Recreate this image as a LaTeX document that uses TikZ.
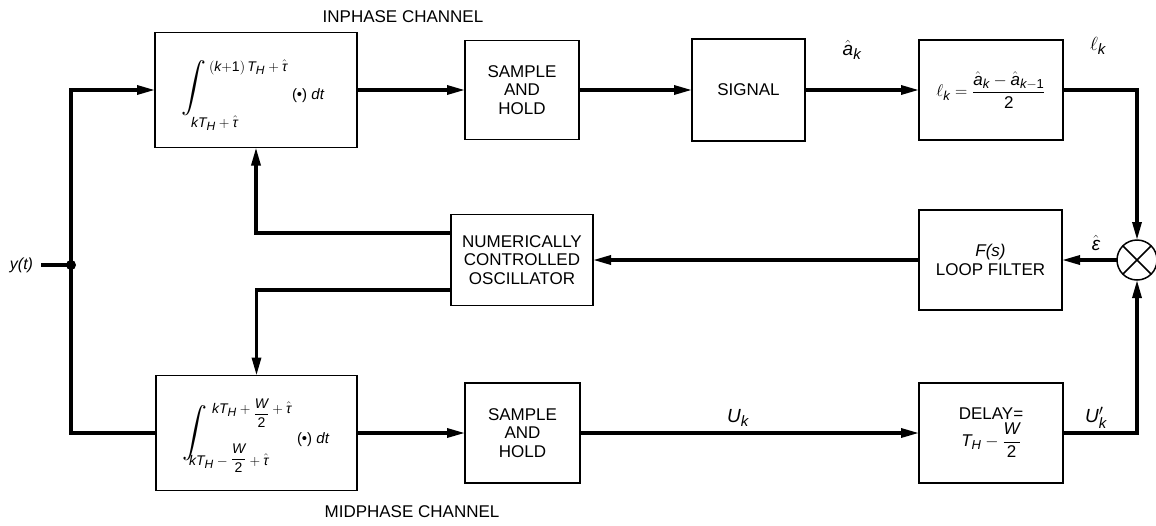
\RequirePackage{fix-cm}
\documentclass[tikz,border=0pt]{standalone}
\usepackage{amsmath}
\usepackage{fontspec}
\setmainfont{Liberation Sans}
\DeclareMathSizes{17}{17}{13}{10}
\DeclareMathSizes{14}{14}{12}{10}
\DeclareMathSizes{19}{19}{15}{12}
\usetikzlibrary{arrows.meta}
\newcommand\mi[1]{\text{\itshape #1}}
\newcommand\rn[1]{\text{#1}}
\begin{document}
\begin{tikzpicture}[x=1pt,y=-1pt,
  every node/.style={inner sep=0pt, outer sep=0pt},
  txt/.style={font=\fontsize{17}{18.5}\selectfont},
  lim/.style={font=\fontsize{14}{14}\selectfont, anchor=base west},
  intsign/.style={font=\fontsize{28}{28}\selectfont},
  dtlab/.style={font=\fontsize{15}{15}\selectfont, anchor=base west},
  blk/.style={draw, line width=1.5pt, align=center, txt},
  conn/.style={line width=3.2pt},
  arr/.style={conn, -{Triangle[length=18pt,width=9pt]}},
  lab/.style={font=\fontsize{19}{19}\selectfont},
]
\useasboundingbox[fill=white] (0,0) rectangle (1156,525);

% boxes
\node[blk, minimum width=202pt, minimum height=115pt] (intI) at (256,90) {};
\node[blk, minimum width=114pt, minimum height=99pt] (shI) at (522,90) {SAMPLE\\AND\\HOLD};
\node[blk, minimum width=113pt, minimum height=102pt] (sig) at (748.5,90) {SIGNAL};
\node[blk, minimum width=144pt, minimum height=100pt] (dif) at (991,90)
  {$\ell_{\mi{k}}=\dfrac{\hat{\mi{a}}_{\mi{k}}-\hat{\mi{a}}_{\mi{k}-\rn{1}}}{\rn{2}}$};
\node[draw, circle, line width=1.5pt, minimum size=40pt] (mul) at (1137,260) {};
\draw[line width=1.5pt] (mul.north west) -- (mul.south east) (mul.north east) -- (mul.south west);
\node[blk, minimum width=143pt, minimum height=100pt] (lf) at (990.5,260) {\textit{F(s)}\\LOOP FILTER};
\node[blk, minimum width=142pt, minimum height=91pt] (nco) at (522,260) {NUMERICALLY\\CONTROLLED\\OSCILLATOR};
\node[blk, minimum width=201pt, minimum height=115pt] (intM) at (256.5,433) {};
\node[blk, minimum width=115pt, minimum height=100pt] (shM) at (522.5,433) {SAMPLE\\AND\\HOLD};
\node[blk, minimum width=144pt, minimum height=100pt] (dly) at (991,433) {DELAY=\\[2pt]$\mi{T}_{\mi{H}}-\dfrac{\mi{W}}{\rn{2}}$};

% integrator contents (inphase)
\node[intsign] (isI) at (194,88) {$\displaystyle\int$};
\node[lim] (ulI) at (209,71) {$(\mi{k}{+}\rn{1})\,\mi{T}_{\mi{H}}+\hat{\mi{τ}}$};
\node[lim] (llI) at (191,127) {$\mi{kT}_{\mi{H}}+\hat{\mi{τ}}$};
\node[dtlab] (dtI) at (292,99) {(•) \textit{dt}};

% integrator contents (midphase)
\node[intsign] (isM) at (195,433) {$\displaystyle\int$};
\node[lim] (ulM) at (212,413) {$\mi{kT}_{\mi{H}}+\raisebox{-5pt}{$\displaystyle\frac{\mi{W}}{\rn{2}}$}+\hat{\mi{τ}}$};
\node[lim] (llM) at (189,465) {$\mi{kT}_{\mi{H}}-\raisebox{2pt}{$\displaystyle\frac{\mi{W}}{\rn{2}}$}+\hat{\mi{τ}}$};
\node[dtlab] (dtM) at (297,443) {(•) \textit{dt}};

% channel labels
\node[txt] (inph) at (403,17) {INPHASE CHANNEL};
\node[txt] (midph) at (412,512) {MIDPHASE CHANNEL};

% input
\node[font=\fontsize{16}{16}\selectfont] (yt) at (21.5,265) {\textit{y(t)}};
\coordinate (split) at (71,265);
\draw[conn] ([xshift=8pt]yt.east) -- (split);
\draw[arr] (split) |- (intI.west);
\draw[conn] (split) |- (intM.west);
\fill (split) circle (5pt);

% top row
\draw[arr] (intI) -- (shI);
\draw[arr] (shI) -- (sig);
\draw[arr] (sig) -- (dif);
\node[lab] (ahat) at (852,50) {$\hat{\mi{a}}_{\mi{k}}$};
\draw[arr] (dif.east) -| (mul.north);
\node[lab] (ellk) at (1098,46) {$\ell_{\mi{k}}$};

% middle row
\draw[arr] (mul) -- (lf);
\node[lab] (eps) at (1096,243) {$\hat{\mi{ε}}$};
\draw[arr] (lf) -- (nco);
\draw[arr] ([yshift=27pt]nco.west) -| (intI.south);
\draw[arr] ([yshift=-30pt]nco.west) -| (intM.north);

% bottom row
\draw[arr] (intM) -- (shM);
\draw[arr] (shM) -- (dly);
\node[lab] (uk) at (738,418) {$\mi{U}_{\mi{k}}$};
\draw[arr] (dly.east) -| (mul.south);
\node[lab] (ukp) at (1096,418) {$\mi{U}'_{\mi{k}}$};
\end{tikzpicture}
\end{document}
